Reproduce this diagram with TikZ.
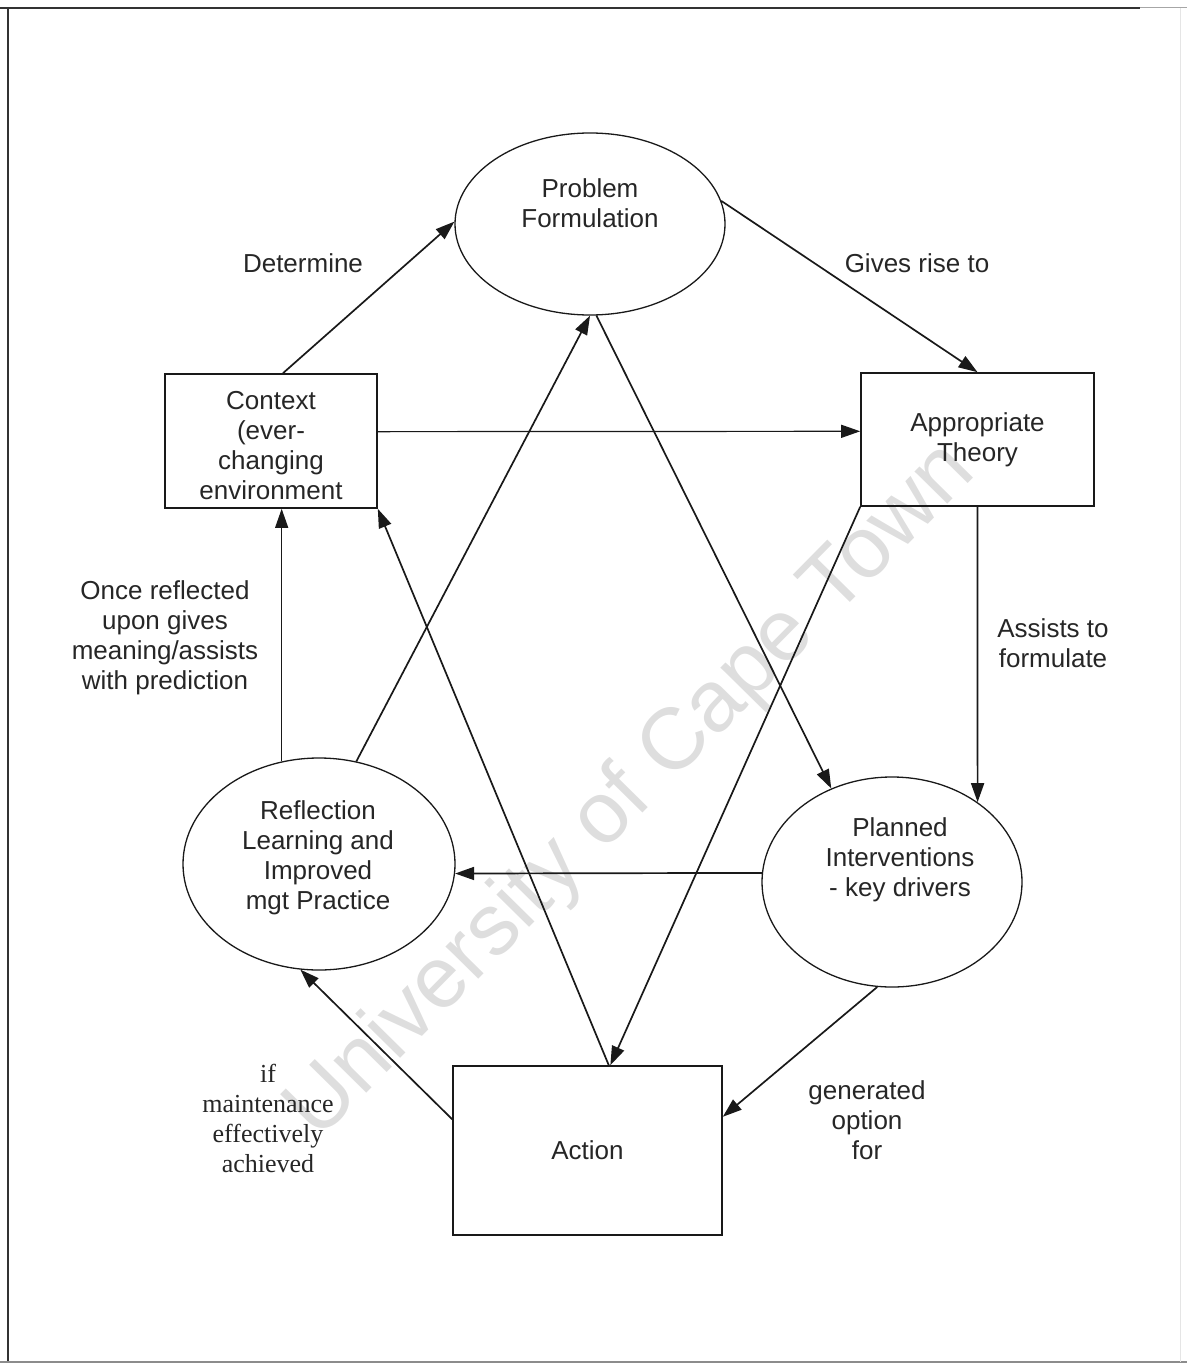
\documentclass[tikz,border=0pt]{standalone}
\usepackage{fontspec}
\setmainfont{Liberation Sans}
\newfontfamily\timesface{Liberation Serif}
\usetikzlibrary{arrows.meta,shapes.geometric}

\begin{document}
\begin{tikzpicture}[x=1pt,y=-1pt,
  txt/.style={font=\fontsize{26}{30}\selectfont, align=center, text=black!85, inner sep=0pt},
  boxnode/.style={txt, draw=black!90, line width=1.6pt, rectangle},
  ovalnode/.style={draw=black!90, line width=1.3pt, ellipse, inner sep=0pt},
  conn/.style={draw=black!90, line width=1.7pt, -{Triangle[length=19pt,width=13pt]}},
  thinconn/.style={conn, line width=1.2pt},
  lbl/.style={txt}
]
\useasboundingbox (0,0) rectangle (1187,1367);

% page frame
\draw[black!80, line width=1.3pt] (0,8) -- (1140,8);
\draw[black!35, line width=1pt] (1140,8) -- (1187,8);
\draw[black!80, line width=1.3pt] (8,8) -- (8,1362);
\draw[black!45, line width=1.2pt] (0,1362) -- (1187,1362);
\draw[black!10, line width=1pt] (1180,8) -- (1180,1362);

% watermark
\node[rotate=45.4, text=black!13, font=\fontsize{87}{87}\selectfont, inner sep=0pt] (wm) at (632,792) {University of Cape Town};

% boxes
\node[boxnode, minimum width=212pt, minimum height=134pt] (ctx) at (271,441) {};
\node[txt] (ctxt) at (271,446) {Context\\(ever-\\changing\\environment};
\node[boxnode, minimum width=233pt, minimum height=133pt] (thy) at (977.5,439.5) {Appropriate\\Theory};
\node[boxnode, minimum width=269pt, minimum height=169pt] (act) at (587.5,1150.5) {Action};

% ellipses
\node[ovalnode, minimum width=270pt, minimum height=182pt] (pf) at (590,224) {};
\node[txt] (pft) at (590,203) {Problem\\Formulation};
\node[ovalnode, minimum width=272pt, minimum height=212pt] (rf) at (319,864) {};
\node[txt] (rft) at (318,858) {Reflection\\Learning and\\Improved\\mgt Practice};
\node[ovalnode, minimum width=260pt, minimum height=210pt] (pl) at (892,882) {};
\node[txt] (plt) at (900,860) {Planned\\Interventions\\- key drivers};

% connectors
\draw[conn] (ctx.80) -- (pf.179);
\draw[conn] (pf.10) -- (thy.north);
\draw[thinconn] (ctx.5) -- (thy.176);
\draw[conn] (thy.south) -- (pl.43);
\draw[conn] (pf.-86) -- (pl.123);
\draw[conn] (rf.70) -- (pf.-90);
\draw[conn] (act.76) -- (ctx.south east);
\draw[conn] (thy.south west) -- (act.75);
\draw[conn] (pl.176) -- (rf.-4);
\draw[conn] (pl.-98) -- (act.14);
\draw[conn] (act.167) -- (rf.-100);
\draw[thinconn] (rf.110) -- (rf.110 |- ctx.south);

% connector labels
\node[lbl] (l1) at (303,263) {Determine};
\node[lbl] (l2) at (917,263) {Gives rise to};
\node[lbl] (l3) at (1053,643) {Assists to\\formulate};
\node[lbl] (l4) at (165,638) {Once reflected\\upon gives\\meaning/assists\\with prediction};
\node[lbl] (l5) at (867,1120) {generated\\option\\for};
\node[txt, font=\timesface\fontsize{26}{30}\selectfont] (l6) at (268,1118) {if\\maintenance\\effectively\\achieved};
\end{tikzpicture}
\end{document}
